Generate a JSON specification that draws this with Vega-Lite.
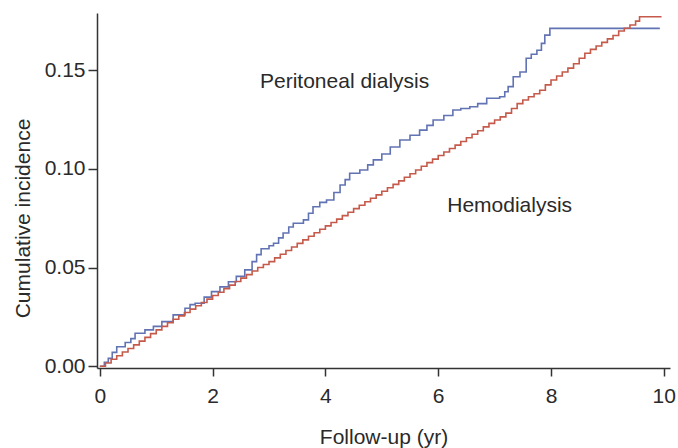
{
  "$schema": "https://vega.github.io/schema/vega-lite/v6.json",
  "width": 573,
  "height": 355,
  "autosize": {"type": "none"},
  "padding": {"left": 97, "top": 13, "right": 8, "bottom": 80},
  "background": "white",
  "config": {
    "view": {"stroke": null},
    "font": "Liberation Sans",
    "axis": {
      "grid": false,
      "domainColor": "#333333",
      "domainWidth": 1.5,
      "tickColor": "#333333",
      "tickWidth": 1.5,
      "labelColor": "#2a2a2a",
      "titleColor": "#2a2a2a",
      "labelFont": "Liberation Sans",
      "titleFont": "Liberation Sans",
      "labelFontSize": 21,
      "titleFontSize": 21,
      "titleFontWeight": "normal"
    }
  },
  "datasets": {
    "curves": [
      {"series": "Peritoneal dialysis", "t": 0, "v": 0},
      {"series": "Peritoneal dialysis", "t": 0.08, "v": 0.002},
      {"series": "Peritoneal dialysis", "t": 0.15, "v": 0.004},
      {"series": "Peritoneal dialysis", "t": 0.22, "v": 0.007},
      {"series": "Peritoneal dialysis", "t": 0.3, "v": 0.0099},
      {"series": "Peritoneal dialysis", "t": 0.45, "v": 0.012},
      {"series": "Peritoneal dialysis", "t": 0.55, "v": 0.014},
      {"series": "Peritoneal dialysis", "t": 0.625, "v": 0.0167},
      {"series": "Peritoneal dialysis", "t": 0.8, "v": 0.0184},
      {"series": "Peritoneal dialysis", "t": 0.95, "v": 0.0202},
      {"series": "Peritoneal dialysis", "t": 1.1, "v": 0.0226},
      {"series": "Peritoneal dialysis", "t": 1.3, "v": 0.026},
      {"series": "Peritoneal dialysis", "t": 1.51, "v": 0.0294},
      {"series": "Peritoneal dialysis", "t": 1.6, "v": 0.0312},
      {"series": "Peritoneal dialysis", "t": 1.69, "v": 0.0319},
      {"series": "Peritoneal dialysis", "t": 1.85, "v": 0.035},
      {"series": "Peritoneal dialysis", "t": 1.98, "v": 0.0378},
      {"series": "Peritoneal dialysis", "t": 2.13, "v": 0.0402},
      {"series": "Peritoneal dialysis", "t": 2.28, "v": 0.0428},
      {"series": "Peritoneal dialysis", "t": 2.42, "v": 0.0455},
      {"series": "Peritoneal dialysis", "t": 2.57, "v": 0.0488},
      {"series": "Peritoneal dialysis", "t": 2.7, "v": 0.053},
      {"series": "Peritoneal dialysis", "t": 2.78, "v": 0.0565},
      {"series": "Peritoneal dialysis", "t": 2.86, "v": 0.0595},
      {"series": "Peritoneal dialysis", "t": 3.0, "v": 0.061},
      {"series": "Peritoneal dialysis", "t": 3.08, "v": 0.0623},
      {"series": "Peritoneal dialysis", "t": 3.17, "v": 0.065},
      {"series": "Peritoneal dialysis", "t": 3.25, "v": 0.0675},
      {"series": "Peritoneal dialysis", "t": 3.35, "v": 0.0705},
      {"series": "Peritoneal dialysis", "t": 3.43, "v": 0.0724},
      {"series": "Peritoneal dialysis", "t": 3.61, "v": 0.0741},
      {"series": "Peritoneal dialysis", "t": 3.7, "v": 0.0775},
      {"series": "Peritoneal dialysis", "t": 3.78, "v": 0.0808},
      {"series": "Peritoneal dialysis", "t": 3.9, "v": 0.083},
      {"series": "Peritoneal dialysis", "t": 4.02, "v": 0.0842},
      {"series": "Peritoneal dialysis", "t": 4.15, "v": 0.088},
      {"series": "Peritoneal dialysis", "t": 4.26, "v": 0.0918},
      {"series": "Peritoneal dialysis", "t": 4.35, "v": 0.0945},
      {"series": "Peritoneal dialysis", "t": 4.43, "v": 0.0977},
      {"series": "Peritoneal dialysis", "t": 4.61, "v": 0.0994},
      {"series": "Peritoneal dialysis", "t": 4.75, "v": 0.102},
      {"series": "Peritoneal dialysis", "t": 4.85, "v": 0.1045},
      {"series": "Peritoneal dialysis", "t": 5.0, "v": 0.1075},
      {"series": "Peritoneal dialysis", "t": 5.15, "v": 0.111},
      {"series": "Peritoneal dialysis", "t": 5.32, "v": 0.1146},
      {"series": "Peritoneal dialysis", "t": 5.5, "v": 0.117},
      {"series": "Peritoneal dialysis", "t": 5.67, "v": 0.1196},
      {"series": "Peritoneal dialysis", "t": 5.8, "v": 0.122},
      {"series": "Peritoneal dialysis", "t": 5.91, "v": 0.1247},
      {"series": "Peritoneal dialysis", "t": 6.1, "v": 0.127},
      {"series": "Peritoneal dialysis", "t": 6.26, "v": 0.1298},
      {"series": "Peritoneal dialysis", "t": 6.4, "v": 0.1305},
      {"series": "Peritoneal dialysis", "t": 6.56, "v": 0.1314},
      {"series": "Peritoneal dialysis", "t": 6.7, "v": 0.133},
      {"series": "Peritoneal dialysis", "t": 6.86, "v": 0.1357},
      {"series": "Peritoneal dialysis", "t": 7.09, "v": 0.1365},
      {"series": "Peritoneal dialysis", "t": 7.18, "v": 0.139},
      {"series": "Peritoneal dialysis", "t": 7.24, "v": 0.1416},
      {"series": "Peritoneal dialysis", "t": 7.33, "v": 0.1466},
      {"series": "Peritoneal dialysis", "t": 7.45, "v": 0.149},
      {"series": "Peritoneal dialysis", "t": 7.56, "v": 0.156},
      {"series": "Peritoneal dialysis", "t": 7.65, "v": 0.158},
      {"series": "Peritoneal dialysis", "t": 7.75, "v": 0.16},
      {"series": "Peritoneal dialysis", "t": 7.83, "v": 0.1635},
      {"series": "Peritoneal dialysis", "t": 7.89, "v": 0.1677},
      {"series": "Peritoneal dialysis", "t": 7.98, "v": 0.1711},
      {"series": "Peritoneal dialysis", "t": 9.93, "v": 0.1711},
      {"series": "Hemodialysis", "t": 0, "v": 0},
      {"series": "Hemodialysis", "t": 0.1, "v": 0.0016},
      {"series": "Hemodialysis", "t": 0.2, "v": 0.0035},
      {"series": "Hemodialysis", "t": 0.3, "v": 0.0053},
      {"series": "Hemodialysis", "t": 0.4, "v": 0.0072},
      {"series": "Hemodialysis", "t": 0.5, "v": 0.009},
      {"series": "Hemodialysis", "t": 0.6, "v": 0.0108},
      {"series": "Hemodialysis", "t": 0.7, "v": 0.0127},
      {"series": "Hemodialysis", "t": 0.8, "v": 0.0146},
      {"series": "Hemodialysis", "t": 0.9, "v": 0.0165},
      {"series": "Hemodialysis", "t": 1.0, "v": 0.0184},
      {"series": "Hemodialysis", "t": 1.1, "v": 0.0202},
      {"series": "Hemodialysis", "t": 1.2, "v": 0.022},
      {"series": "Hemodialysis", "t": 1.3, "v": 0.0238},
      {"series": "Hemodialysis", "t": 1.4, "v": 0.0255},
      {"series": "Hemodialysis", "t": 1.5, "v": 0.0272},
      {"series": "Hemodialysis", "t": 1.6, "v": 0.0289},
      {"series": "Hemodialysis", "t": 1.7, "v": 0.0306},
      {"series": "Hemodialysis", "t": 1.8, "v": 0.0323},
      {"series": "Hemodialysis", "t": 1.9, "v": 0.034},
      {"series": "Hemodialysis", "t": 2.0, "v": 0.0358},
      {"series": "Hemodialysis", "t": 2.1, "v": 0.0375},
      {"series": "Hemodialysis", "t": 2.2, "v": 0.0393},
      {"series": "Hemodialysis", "t": 2.3, "v": 0.0411},
      {"series": "Hemodialysis", "t": 2.4, "v": 0.0429},
      {"series": "Hemodialysis", "t": 2.5, "v": 0.0446},
      {"series": "Hemodialysis", "t": 2.6, "v": 0.0464},
      {"series": "Hemodialysis", "t": 2.7, "v": 0.0482},
      {"series": "Hemodialysis", "t": 2.8, "v": 0.05},
      {"series": "Hemodialysis", "t": 2.9, "v": 0.0515},
      {"series": "Hemodialysis", "t": 3.0, "v": 0.053},
      {"series": "Hemodialysis", "t": 3.1, "v": 0.0549},
      {"series": "Hemodialysis", "t": 3.2, "v": 0.0567},
      {"series": "Hemodialysis", "t": 3.3, "v": 0.0586},
      {"series": "Hemodialysis", "t": 3.4, "v": 0.0604},
      {"series": "Hemodialysis", "t": 3.5, "v": 0.0622},
      {"series": "Hemodialysis", "t": 3.6, "v": 0.064},
      {"series": "Hemodialysis", "t": 3.7, "v": 0.0658},
      {"series": "Hemodialysis", "t": 3.8, "v": 0.0676},
      {"series": "Hemodialysis", "t": 3.9, "v": 0.0694},
      {"series": "Hemodialysis", "t": 4.0, "v": 0.0711},
      {"series": "Hemodialysis", "t": 4.1, "v": 0.0728},
      {"series": "Hemodialysis", "t": 4.2, "v": 0.0745},
      {"series": "Hemodialysis", "t": 4.3, "v": 0.0763},
      {"series": "Hemodialysis", "t": 4.4, "v": 0.078},
      {"series": "Hemodialysis", "t": 4.5, "v": 0.0798},
      {"series": "Hemodialysis", "t": 4.6, "v": 0.0815},
      {"series": "Hemodialysis", "t": 4.7, "v": 0.0833},
      {"series": "Hemodialysis", "t": 4.8, "v": 0.0851},
      {"series": "Hemodialysis", "t": 4.9, "v": 0.0868},
      {"series": "Hemodialysis", "t": 5.0, "v": 0.0886},
      {"series": "Hemodialysis", "t": 5.1, "v": 0.0904},
      {"series": "Hemodialysis", "t": 5.2, "v": 0.0921},
      {"series": "Hemodialysis", "t": 5.3, "v": 0.0939},
      {"series": "Hemodialysis", "t": 5.4, "v": 0.0957},
      {"series": "Hemodialysis", "t": 5.5, "v": 0.0975},
      {"series": "Hemodialysis", "t": 5.6, "v": 0.0994},
      {"series": "Hemodialysis", "t": 5.7, "v": 0.1013},
      {"series": "Hemodialysis", "t": 5.8, "v": 0.1031},
      {"series": "Hemodialysis", "t": 5.9, "v": 0.1049},
      {"series": "Hemodialysis", "t": 6.0, "v": 0.1067},
      {"series": "Hemodialysis", "t": 6.1, "v": 0.1085},
      {"series": "Hemodialysis", "t": 6.2, "v": 0.1103},
      {"series": "Hemodialysis", "t": 6.3, "v": 0.112},
      {"series": "Hemodialysis", "t": 6.4, "v": 0.1138},
      {"series": "Hemodialysis", "t": 6.5, "v": 0.1157},
      {"series": "Hemodialysis", "t": 6.6, "v": 0.1175},
      {"series": "Hemodialysis", "t": 6.7, "v": 0.1193},
      {"series": "Hemodialysis", "t": 6.8, "v": 0.1212},
      {"series": "Hemodialysis", "t": 6.9, "v": 0.123},
      {"series": "Hemodialysis", "t": 7.0, "v": 0.1247},
      {"series": "Hemodialysis", "t": 7.1, "v": 0.1263},
      {"series": "Hemodialysis", "t": 7.2, "v": 0.1282},
      {"series": "Hemodialysis", "t": 7.3, "v": 0.1305},
      {"series": "Hemodialysis", "t": 7.4, "v": 0.133},
      {"series": "Hemodialysis", "t": 7.5, "v": 0.1348},
      {"series": "Hemodialysis", "t": 7.6, "v": 0.1365},
      {"series": "Hemodialysis", "t": 7.7, "v": 0.138},
      {"series": "Hemodialysis", "t": 7.8, "v": 0.1398},
      {"series": "Hemodialysis", "t": 7.9, "v": 0.1425},
      {"series": "Hemodialysis", "t": 8.0, "v": 0.145},
      {"series": "Hemodialysis", "t": 8.1, "v": 0.147},
      {"series": "Hemodialysis", "t": 8.2, "v": 0.149},
      {"series": "Hemodialysis", "t": 8.3, "v": 0.151},
      {"series": "Hemodialysis", "t": 8.4, "v": 0.1532},
      {"series": "Hemodialysis", "t": 8.5, "v": 0.156},
      {"series": "Hemodialysis", "t": 8.6, "v": 0.1585},
      {"series": "Hemodialysis", "t": 8.7, "v": 0.1605},
      {"series": "Hemodialysis", "t": 8.8, "v": 0.1622},
      {"series": "Hemodialysis", "t": 8.9, "v": 0.164},
      {"series": "Hemodialysis", "t": 9.0, "v": 0.1658},
      {"series": "Hemodialysis", "t": 9.1, "v": 0.1675},
      {"series": "Hemodialysis", "t": 9.2, "v": 0.1698},
      {"series": "Hemodialysis", "t": 9.3, "v": 0.1712},
      {"series": "Hemodialysis", "t": 9.4, "v": 0.1728},
      {"series": "Hemodialysis", "t": 9.5, "v": 0.1748},
      {"series": "Hemodialysis", "t": 9.57, "v": 0.177},
      {"series": "Hemodialysis", "t": 9.96, "v": 0.177}
    ],
    "labels": [
      {"label": "Peritoneal dialysis", "t": 2.84, "v": 0.141},
      {"label": "Hemodialysis", "t": 6.16, "v": 0.078}
    ]
  },
  "layer": [
    {
      "data": {"name": "curves"},
      "mark": {"type": "line", "interpolate": "step-after", "strokeWidth": 1.6},
      "encoding": {
        "x": {
          "field": "t", "type": "quantitative",
          "scale": {"domain": [-0.05, 10.11], "nice": false, "zero": false},
          "axis": {
            "values": [0, 2, 4, 6, 8, 10],
            "format": "d",
            "title": "Follow-up (yr)",
            "tickSize": 8,
            "labelPadding": 9,
            "titleBaseline": "alphabetic",
            "titleY": 75
          }
        },
        "y": {
          "field": "v", "type": "quantitative",
          "scale": {"domain": [-0.0009, 0.1789], "nice": false, "zero": false},
          "axis": {
            "values": [0, 0.05, 0.1, 0.15],
            "format": ".2f",
            "title": "Cumulative incidence",
            "tickSize": 9,
            "labelPadding": 3,
            "titleBaseline": "alphabetic",
            "titleX": -68,
            "titleY": 205
          }
        },
        "color": {
          "field": "series", "type": "nominal",
          "scale": {"domain": ["Peritoneal dialysis", "Hemodialysis"], "range": ["#6173b3", "#c55a4b"]},
          "legend": null
        }
      }
    },
    {
      "data": {"name": "labels"},
      "mark": {"type": "text", "align": "left", "baseline": "alphabetic", "fontSize": 21, "font": "Liberation Sans", "color": "#2a2a2a"},
      "encoding": {
        "x": {"field": "t", "type": "quantitative"},
        "y": {"field": "v", "type": "quantitative"},
        "text": {"field": "label"}
      }
    }
  ]
}
